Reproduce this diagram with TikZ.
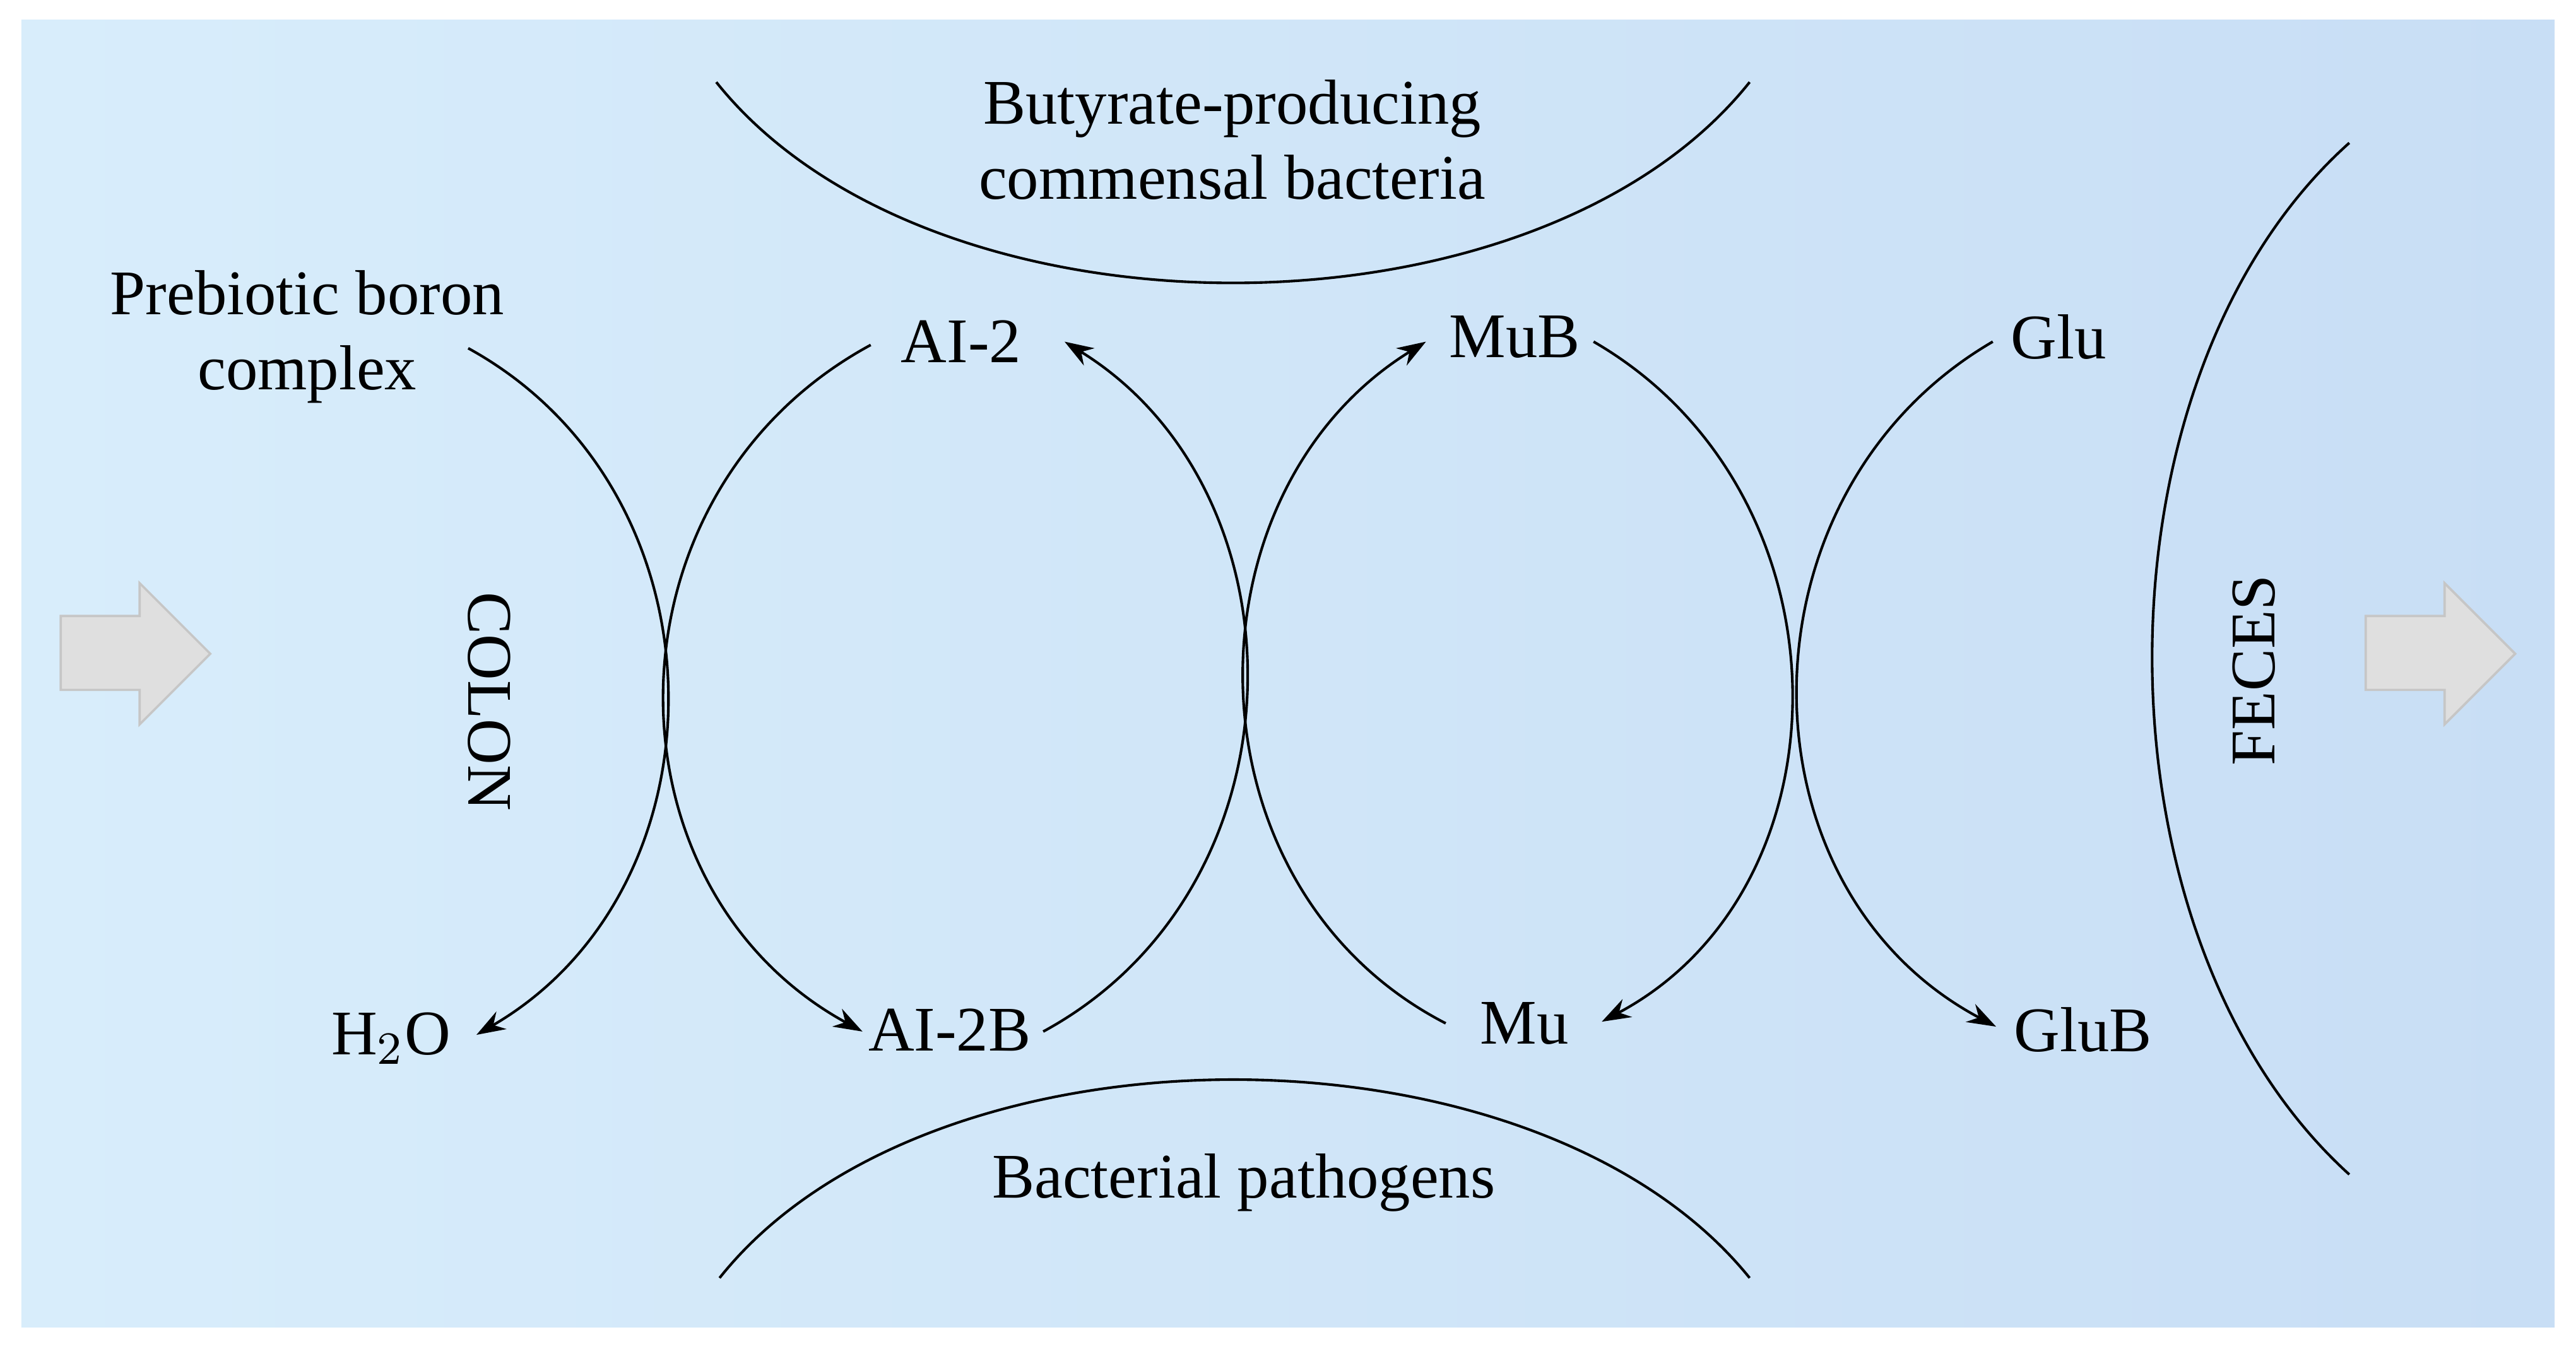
\documentclass[tikz,border=0pt]{standalone}
\usepackage{fontspec}
\setmainfont{Liberation Serif}
\usetikzlibrary{arrows.meta}
\begin{document}
\begin{tikzpicture}[x=0.01cm,y=-0.01cm,
  lbl/.style={font=\fontsize{11}{13}\selectfont,align=center,inner sep=0pt},
  arc/.style={line width=0.45pt},
  arr/.style={arc,-{Stealth[length=5pt,width=3.5pt]}},
  big/.style={fill=gray!25,draw=gray!45,line width=0.4pt}]
\useasboundingbox (0,0) rectangle (1568,821);
\shade[left color={rgb,255:red,216;green,237;blue,251},right color={rgb,255:red,200;green,222;blue,245}] (13,12) rectangle (1555,808);
% text nodes
\node[lbl] (pre) at (187,205) {Prebiotic boron\\complex};
\node[lbl] (but) at (750,85) {Butyrate-producing\\commensal bacteria};
\node[lbl] (ai2) at (585,208) {AI-2};
\node[lbl] (mub) at (922,205) {MuB};
\node[lbl] (glu) at (1253,205) {Glu};
\node[lbl] (h2o) at (238,632) {H$_2$O};
\node[lbl] (ai2b) at (578,627) {AI-2B};
\node[lbl] (mu) at (928,623) {Mu};
\node[lbl] (glub) at (1268,627) {GluB};
\node[lbl] (pat) at (757,720) {Bacterial pathogens};
\node[lbl,rotate=-90] (colon) at (298,427) {COLON};
\node[lbl,rotate=90] (feces) at (1372,408) {FECES};
% endpoints
\coordinate (p1) at (285,212); \coordinate (p2) at (290,630);
\coordinate (a1) at (530,210); \coordinate (a2) at (525,628);
\coordinate (b1) at (635,628); \coordinate (b2) at (648,208);
\coordinate (c1) at (880,623); \coordinate (c2) at (868,208);
\coordinate (d1) at (970,208); \coordinate (d2) at (975,622);
\coordinate (e1) at (1213,208); \coordinate (e2) at (1215,625);
\coordinate (f1) at (1430,87); \coordinate (f2) at (1430,715);
\coordinate (t1) at (436,50); \coordinate (t2) at (1065,50);
\coordinate (u1) at (438,778); \coordinate (u2) at (1065,778);
\draw[arr] (p1) .. controls (445,300) and (445,540) .. (p2);
\draw[arr] (a1) .. controls (364,300) and (364,540) .. (a2);
\draw[arr] (b1) .. controls (797,540) and (797,300) .. (b2);
\draw[arr] (c1) .. controls (719,540) and (719,300) .. (c2);
\draw[arr] (d1) .. controls (1129,300) and (1129,540) .. (d2);
\draw[arr] (e1) .. controls (1055,300) and (1055,540) .. (e2);
\draw[arc] (f1) .. controls (1270,230) and (1270,570) .. (f2);
\draw[arc] (t1) .. controls (566,213) and (935,213) .. (t2);
\draw[arc] (u1) .. controls (566,617) and (935,617) .. (u2);
% big arrows
\draw[big] (37,375) -- (85,375) -- (85,355) -- (128,398) -- (85,441) -- (85,420) -- (37,420) -- cycle;
\draw[big] (1440,375) -- (1488,375) -- (1488,355) -- (1531,398) -- (1488,441) -- (1488,420) -- (1440,420) -- cycle;
\end{tikzpicture}
\end{document}
